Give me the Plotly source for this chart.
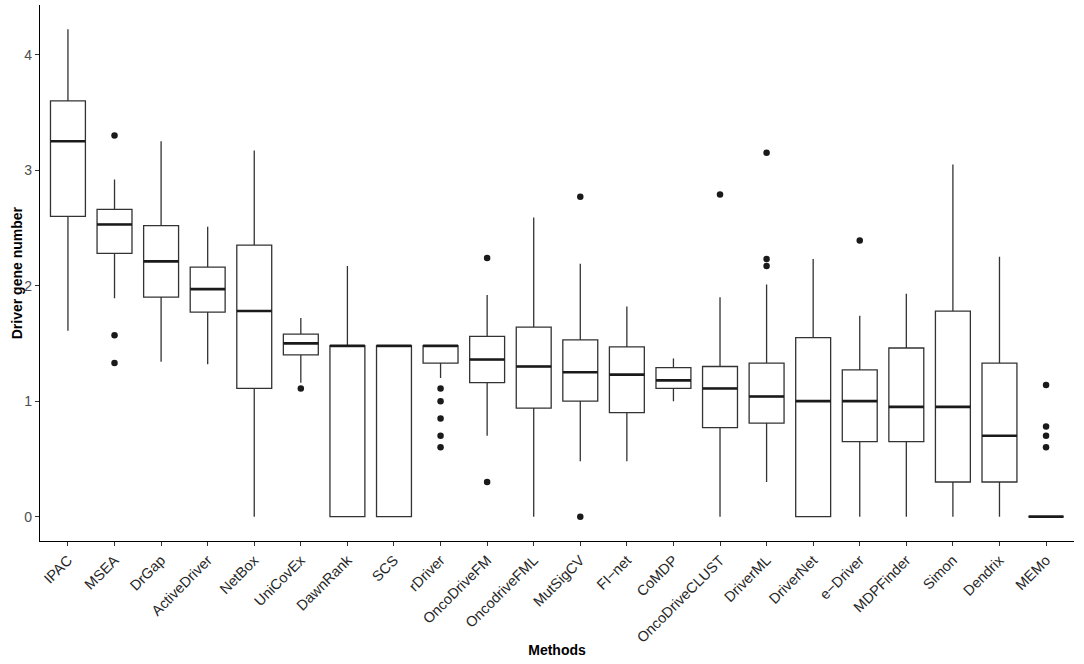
import plotly.graph_objects as go

# box statistics
methods = ["IPAC", "MSEA", "DrGap", "ActiveDriver", "NetBox", "UniCovEx", "DawnRank", "SCS",
           "rDriver", "OncoDriveFM", "OncodriveFML", "MutSigCV", "FI\u2212net", "CoMDP",
           "OncoDriveCLUST", "DriverML", "DriverNet", "e\u2212Driver", "MDPFinder", "Simon",
           "Dendrix", "MEMo"]
lower = [1.61, 1.89, 1.34, 1.32, 0.0, 1.16, 0.0, 0.0, 1.20, 0.70, 0.0, 0.48, 0.48, 1.00,
         0.0, 0.30, 0.0, 0.0, 0.0, 0.0, 0.0, 0.0]
q1 = [2.60, 2.28, 1.90, 1.77, 1.11, 1.40, 0.0, 0.0, 1.33, 1.16, 0.94, 1.00, 0.90, 1.11,
      0.77, 0.81, 0.0, 0.65, 0.65, 0.30, 0.30, 0.0]
median = [3.25, 2.53, 2.21, 1.97, 1.78, 1.50, 1.48, 1.48, 1.48, 1.36, 1.30, 1.25, 1.23, 1.18,
          1.11, 1.04, 1.00, 1.00, 0.95, 0.95, 0.70, 0.0]
q3 = [3.60, 2.66, 2.52, 2.16, 2.35, 1.58, 1.48, 1.48, 1.48, 1.56, 1.64, 1.53, 1.47, 1.29,
      1.30, 1.33, 1.55, 1.27, 1.46, 1.78, 1.33, 0.0]
upper = [4.22, 2.92, 3.25, 2.51, 3.17, 1.72, 2.17, 1.48, 1.48, 1.92, 2.59, 2.19, 1.82, 1.37,
         1.90, 2.01, 2.23, 1.74, 1.93, 3.05, 2.25, 0.0]
outliers = {
    "MSEA": [3.30, 1.57, 1.33],
    "UniCovEx": [1.11],
    "rDriver": [1.11, 1.00, 0.85, 0.70, 0.60],
    "OncoDriveFM": [2.24, 0.30],
    "MutSigCV": [2.77, 0.0],
    "OncoDriveCLUST": [2.79],
    "DriverML": [3.15, 2.23, 2.17],
    "e\u2212Driver": [2.39],
    "MEMo": [1.14, 0.78, 0.70, 0.60],
}

pos = list(range(len(methods)))
box_w = 0.75
edge = "#333333"

fig = go.Figure()
fig.add_trace(go.Box(
    x=pos, q1=q1, median=median, q3=q3, lowerfence=lower, upperfence=upper,
    width=box_w, whiskerwidth=0, boxpoints=False,
    fillcolor="white", line=dict(color=edge, width=1.3),
    showlegend=False,
))

# ggplot draws the median thicker than the box outline
mx, my = [], []
for i, m in zip(pos, median):
    mx += [i - box_w / 2, i + box_w / 2, None]
    my += [m, m, None]
fig.add_trace(go.Scatter(x=mx, y=my, mode="lines", line=dict(color="#1a1a1a", width=2.6),
                         showlegend=False, hoverinfo="skip"))

ox, oy = [], []
for name, vals in outliers.items():
    for v in vals:
        ox.append(methods.index(name))
        oy.append(v)
fig.add_trace(go.Scatter(x=ox, y=oy, mode="markers",
                         marker=dict(color="#1a1a1a", size=6.5), showlegend=False))

fig.update_layout(
    width=1084, height=664,
    margin=dict(l=40, r=10, t=5, b=123),
    plot_bgcolor="white", paper_bgcolor="white",
    font=dict(family="Liberation Sans, Arial, sans-serif", color="#4d4d4d"),
)
fig.update_xaxes(
    range=[-0.6, len(methods) - 0.4],
    tickmode="array", tickvals=pos, ticktext=methods, tickangle=-45,
    tickfont=dict(size=14.5, color="#262626"),
    showline=True, linecolor="black", linewidth=1.2,
    ticks="outside", ticklen=4, tickcolor="#333333",
    showgrid=False, zeroline=False, automargin=False,
    title=dict(text="<b>Methods</b>", font=dict(size=14, color="black"), standoff=0),
)
fig.update_yaxes(
    range=[-0.211, 4.43],
    tickvals=[0, 1, 2, 3, 4],
    tickfont=dict(size=14, color="#4d4d4d"),
    showline=True, linecolor="black", linewidth=1.2,
    ticks="outside", ticklen=4, tickcolor="#333333",
    showgrid=False, zeroline=False, automargin=False,
)
# y title as an annotation so it sits a little away from the page edge
fig.add_annotation(
    text="<b>Driver gene number</b>", textangle=-90,
    xref="paper", yref="paper", x=-0.022, y=0.5, xanchor="center", yanchor="middle",
    showarrow=False, font=dict(size=14, color="black"),
)

# drop the browser's default body margin so the figure sits at the page corner
fig.write_html("out.html", config={"displayModeBar": False},
               post_script="document.body.style.margin='0';")
